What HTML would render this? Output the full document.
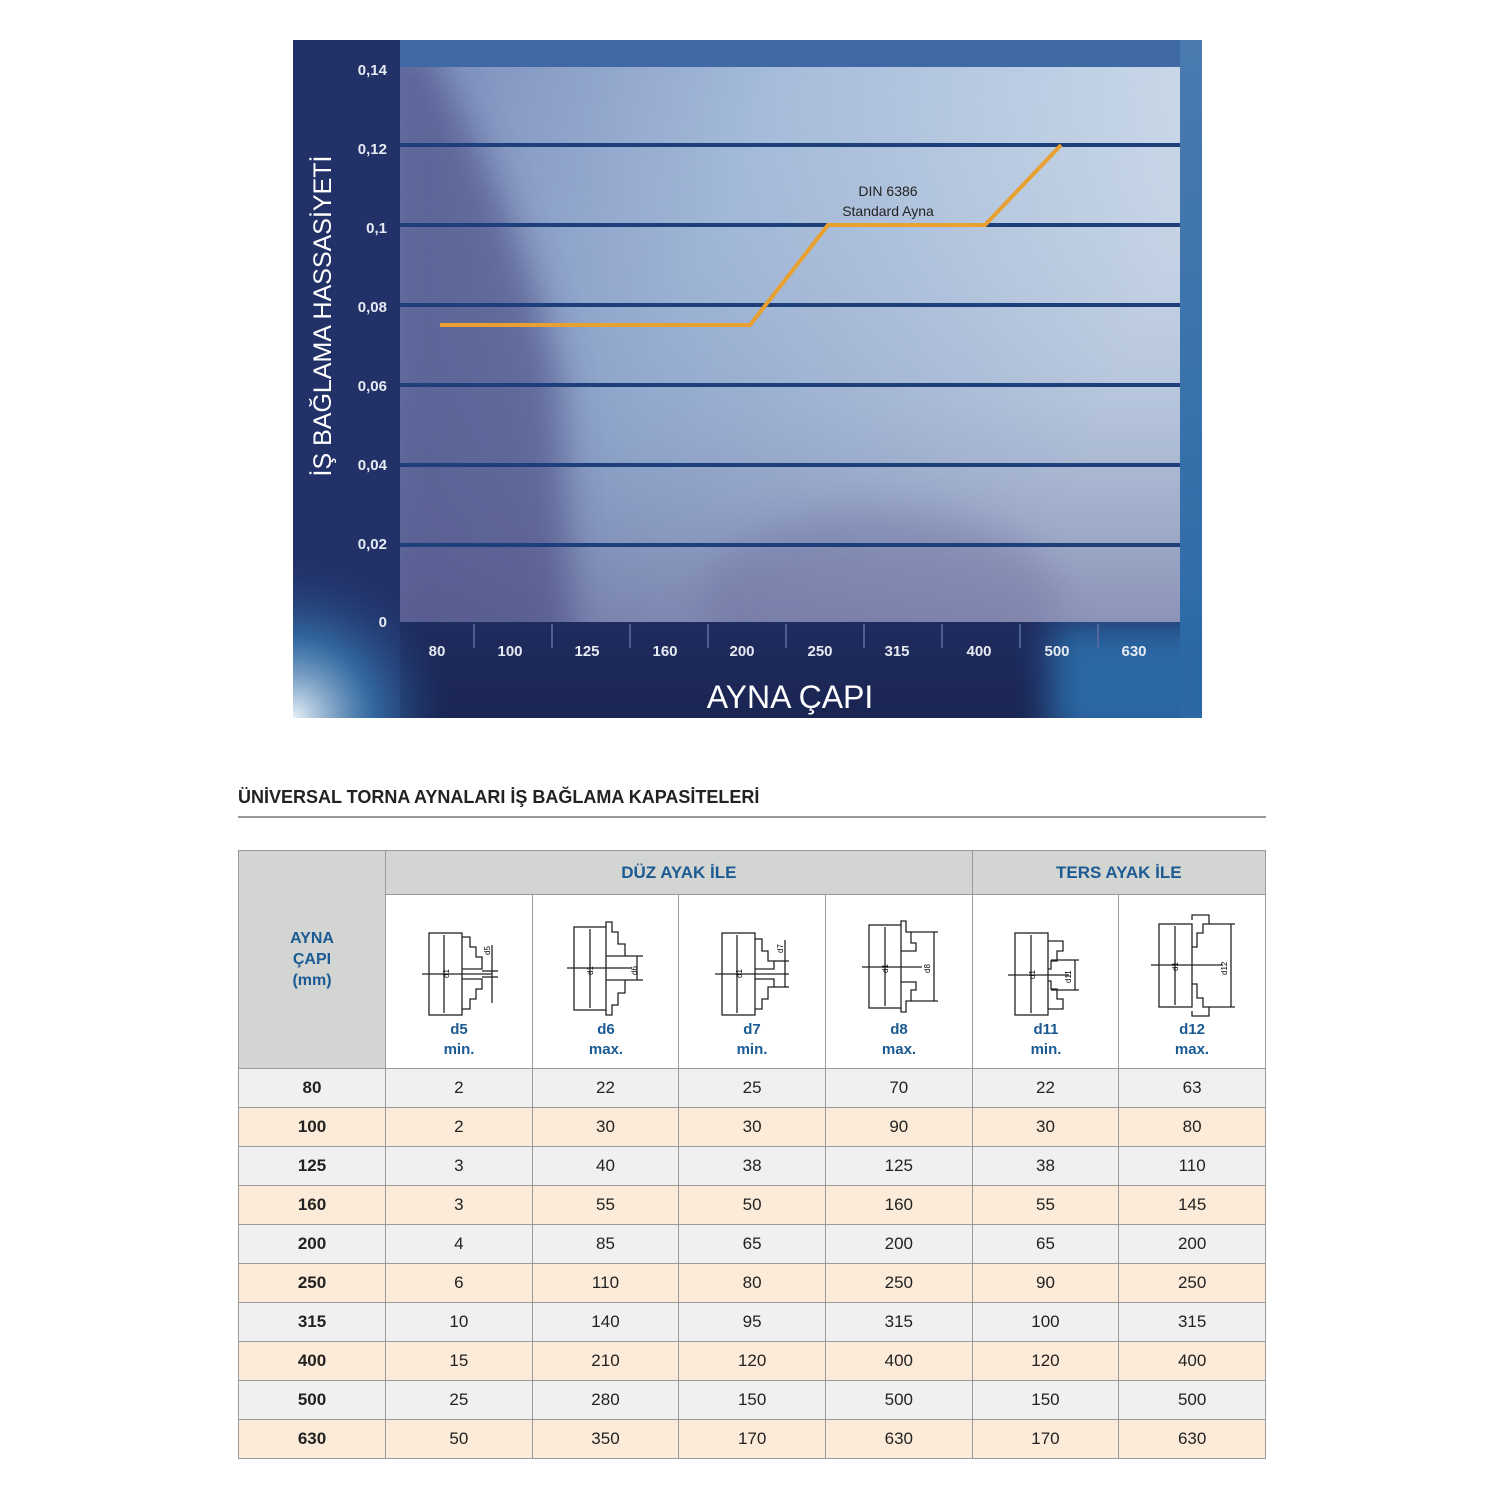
<!DOCTYPE html>
<html><head><meta charset="utf-8"><style>
body{margin:0;background:#fff;width:1500px;height:1500px;position:relative;font-family:"Liberation Sans",sans-serif;overflow:hidden}
.t{position:absolute}
table{position:absolute;left:238px;top:850px;border-collapse:collapse;table-layout:fixed;width:1028px}
td{border:1px solid #9a9a9a;text-align:center;padding:0;font-size:17px;color:#222}
td.h{background:#d3d5d3;color:#1b5a92;font-weight:bold}
tr.g td{background:#f0f0f0}
tr.p td{background:#fcebd8}
tr.g td:first-child,tr.p td:first-child{font-weight:bold}
td.ic{background:#fff;height:168px;vertical-align:top;overflow:hidden}
td.ic svg{display:block}
</style></head><body>
<svg class="t" style="left:0;top:0" width="1500" height="730" viewBox="0 0 1500 730">
<defs>
<linearGradient id="bg" x1="0" y1="0" x2="0" y2="1">
<stop offset="0" stop-color="#3f6aa5"/><stop offset="0.5" stop-color="#3e5f9c"/><stop offset="0.85" stop-color="#1f2c5e"/><stop offset="1" stop-color="#1a2552"/></linearGradient>
<linearGradient id="pl" x1="0" y1="0" x2="1" y2="0.3">
<stop offset="0" stop-color="#6a7fb3"/><stop offset="0.45" stop-color="#9cb5d6"/><stop offset="1" stop-color="#c8d8e8"/></linearGradient>
<linearGradient id="pv" x1="0" y1="0" x2="0" y2="1">
<stop offset="0" stop-color="#fff" stop-opacity="0.1"/><stop offset="0.6" stop-color="#6a78a8" stop-opacity="0.2"/><stop offset="1" stop-color="#5a5a8e" stop-opacity="0.55"/></linearGradient>
<radialGradient id="wl" cx="0" cy="1" r="1"><stop offset="0" stop-color="#e8f2f8"/><stop offset="0.5" stop-color="#3a80b8" stop-opacity="0.7"/><stop offset="1" stop-color="#1e3a78" stop-opacity="0"/></radialGradient>
<linearGradient id="rt" x1="0" y1="0" x2="0" y2="1"><stop offset="0" stop-color="#4a7ab0"/><stop offset="1" stop-color="#2a6aa8"/></linearGradient>
<filter id="bl" x="-20%" y="-20%" width="140%" height="140%"><feGaussianBlur stdDeviation="18"/></filter>
<clipPath id="pc"><rect x="400" y="67" width="780" height="555"/></clipPath>
<clipPath id="cc"><rect x="293" y="40" width="909" height="678"/></clipPath>
</defs>
<g clip-path="url(#cc)">
<rect x="293" y="40" width="909" height="678" fill="url(#bg)"/>
<rect x="293" y="40" width="107" height="678" fill="#223268"/>
<rect x="293" y="560" width="160" height="158" fill="url(#wl)"/>
<rect x="1180" y="40" width="22" height="678" fill="url(#rt)"/>
<rect x="1050" y="622" width="170" height="120" fill="#2a68a4" filter="url(#bl)"/>
</g>
<rect x="400" y="67" width="780" height="555" fill="url(#pl)"/>
<rect x="400" y="67" width="780" height="555" fill="url(#pv)"/>
<g clip-path="url(#pc)"><path d="M380 40 L420 40 Q520 200 560 380 L575 660 L380 660Z" fill="#4a4a80" opacity="0.6" filter="url(#bl)"/>
<ellipse cx="880" cy="600" rx="180" ry="90" fill="#6a6a9a" opacity="0.35" filter="url(#bl)"/></g>
<g stroke="#1f3f7a" stroke-width="4">
<line x1="400" y1="145" x2="1180" y2="145"/><line x1="400" y1="225" x2="1180" y2="225"/>
<line x1="400" y1="305" x2="1180" y2="305"/><line x1="400" y1="385" x2="1180" y2="385"/>
<line x1="400" y1="465" x2="1180" y2="465"/><line x1="400" y1="545" x2="1180" y2="545"/></g>
<g stroke="#5a6aa0" stroke-width="2" opacity="0.8">
<line x1="474" y1="624" x2="474" y2="648"/><line x1="552" y1="624" x2="552" y2="648"/><line x1="630" y1="624" x2="630" y2="648"/><line x1="708" y1="624" x2="708" y2="648"/><line x1="786" y1="624" x2="786" y2="648"/><line x1="864" y1="624" x2="864" y2="648"/><line x1="942" y1="624" x2="942" y2="648"/><line x1="1020" y1="624" x2="1020" y2="648"/><line x1="1098" y1="624" x2="1098" y2="648"/></g>
<polyline points="440,325 750,325 828,225 985,225 1061,145" fill="none" stroke="#e8a030" stroke-width="4"/>
<g fill="#e6ebf3" font-size="15" font-weight="bold" text-anchor="end">
<text x="387" y="75">0,14</text><text x="387" y="154">0,12</text><text x="387" y="233">0,1</text><text x="387" y="312">0,08</text><text x="387" y="391">0,06</text><text x="387" y="470">0,04</text><text x="387" y="549">0,02</text><text x="387" y="627">0</text></g>
<g fill="#e6ebf3" font-size="15" font-weight="bold" text-anchor="middle">
<text x="437" y="656">80</text><text x="510" y="656">100</text><text x="587" y="656">125</text><text x="665" y="656">160</text><text x="742" y="656">200</text><text x="820" y="656">250</text><text x="897" y="656">315</text><text x="979" y="656">400</text><text x="1057" y="656">500</text><text x="1134" y="656">630</text></g>
<text x="790" y="708" fill="#fff" font-size="32" text-anchor="middle">AYNA ÇAPI</text>
<text transform="translate(331,316) rotate(-90)" fill="#fff" font-size="25" text-anchor="middle">İŞ BAĞLAMA HASSASİYETİ</text>
<text x="888" y="196" fill="#222" font-size="14" text-anchor="middle">DIN 6386</text>
<text x="888" y="216" fill="#222" font-size="14" text-anchor="middle">Standard Ayna</text>
</svg>
<div class="t" style="left:238px;top:787px;font-size:18px;font-weight:bold;color:#222">ÜNİVERSAL TORNA AYNALARI İŞ BAĞLAMA KAPASİTELERİ</div>
<div class="t" style="left:238px;top:816px;width:1028px;height:2px;background:#999"></div>
<table>
<colgroup><col style="width:147px"><col><col><col><col><col><col></colgroup>
<tr style="height:44px"><td class="h" rowspan="2" style="font-size:16px;line-height:21px">AYNA<br>ÇAPI<br>(mm)</td><td class="h" colspan="4" style="font-size:17px">DÜZ AYAK İLE</td><td class="h" colspan="2" style="font-size:17px">TERS AYAK İLE</td></tr>
<tr style="height:174px">
<td class="ic"><svg width="146" height="168"><g fill="none" stroke="#222" stroke-width="1.3"><rect x="43" y="38" width="33" height="82"/><line x1="58" y1="40" x2="58" y2="118"/><polyline points="76,42 84,42 84,52 90,52 90,62 96,62 96,74 76,74"/><polyline points="76,114 84,114 84,104 90,104 90,94 96,94 96,84 76,84"/><line x1="36" y1="79" x2="106" y2="79"/><line x1="96" y1="76" x2="112" y2="76"/><line x1="96" y1="82" x2="112" y2="82"/><line x1="106" y1="50" x2="106" y2="108"/></g><text transform="translate(63,83) rotate(-90)" font-size="8">d1</text><text transform="translate(104,60) rotate(-90)" font-size="8">d5</text><text x="73" y="139" fill="#1b5a92" font-weight="bold" font-size="15" text-anchor="middle">d5</text><text x="73" y="159" fill="#1b5a92" font-weight="bold" font-size="15" text-anchor="middle">min.</text></svg></td>
<td class="ic"><svg width="146" height="168"><g fill="none" stroke="#222" stroke-width="1.3"><rect x="41" y="32" width="32" height="83"/><line x1="57" y1="34" x2="57" y2="113"/><polyline points="73,32 73,27 79,27 79,37 85,37 85,49 92,49 92,61 73,61"/><polyline points="73,115 73,120 79,120 79,110 85,110 85,98 92,98 92,85 73,85"/><line x1="34" y1="73" x2="98" y2="73"/><line x1="92" y1="61" x2="110" y2="61"/><line x1="92" y1="85" x2="110" y2="85"/><line x1="104" y1="61" x2="104" y2="85"/></g><text transform="translate(60,80) rotate(-90)" font-size="8">d1</text><text transform="translate(104,80) rotate(-90)" font-size="8">d6</text><text x="73" y="139" fill="#1b5a92" font-weight="bold" font-size="15" text-anchor="middle">d6</text><text x="73" y="159" fill="#1b5a92" font-weight="bold" font-size="15" text-anchor="middle">max.</text></svg></td>
<td class="ic"><svg width="146" height="168"><g fill="none" stroke="#222" stroke-width="1.3"><rect x="43" y="38" width="33" height="82"/><line x1="58" y1="40" x2="58" y2="118"/><polyline points="76,44 83,44 83,56 89,56 89,66 95,66 95,74 76,74"/><polyline points="76,114 83,114 83,104 89,104 89,92 95,92 95,84 76,84"/><line x1="36" y1="79" x2="110" y2="79"/><line x1="95" y1="66" x2="110" y2="66"/><line x1="95" y1="92" x2="110" y2="92"/><line x1="106" y1="45" x2="106" y2="92"/></g><text transform="translate(63,83) rotate(-90)" font-size="8">d1</text><text transform="translate(104,58) rotate(-90)" font-size="8">d7</text><text x="73" y="139" fill="#1b5a92" font-weight="bold" font-size="15" text-anchor="middle">d7</text><text x="73" y="159" fill="#1b5a92" font-weight="bold" font-size="15" text-anchor="middle">min.</text></svg></td>
<td class="ic"><svg width="146" height="168"><g fill="none" stroke="#222" stroke-width="1.3"><rect x="43" y="30" width="32" height="83"/><line x1="59" y1="32" x2="59" y2="111"/><polyline points="75,30 75,26 80,26 80,37 85,37 85,48 90,48 90,56 75,56"/><polyline points="75,113 75,117 80,117 80,106 85,106 85,95 90,95 90,87 75,87"/><line x1="36" y1="72" x2="96" y2="72"/><line x1="85" y1="37" x2="112" y2="37"/><line x1="85" y1="106" x2="112" y2="106"/><line x1="108" y1="37" x2="108" y2="106"/></g><text transform="translate(62,78) rotate(-90)" font-size="8">d1</text><text transform="translate(104,78) rotate(-90)" font-size="8">d8</text><text x="73" y="139" fill="#1b5a92" font-weight="bold" font-size="15" text-anchor="middle">d8</text><text x="73" y="159" fill="#1b5a92" font-weight="bold" font-size="15" text-anchor="middle">max.</text></svg></td>
<td class="ic"><svg width="146" height="168"><g fill="none" stroke="#222" stroke-width="1.3"><rect x="42" y="38" width="33" height="82"/><line x1="58" y1="40" x2="58" y2="118"/><polyline points="75,46 90,46 90,56 84,56 84,66 78,66 78,74 75,74"/><polyline points="75,114 90,114 90,104 84,104 84,94 78,94 78,86 75,86"/><line x1="35" y1="80" x2="96" y2="80"/><line x1="78" y1="65" x2="106" y2="65"/><line x1="78" y1="95" x2="106" y2="95"/><line x1="102" y1="65" x2="102" y2="95"/></g><text transform="translate(62,84) rotate(-90)" font-size="8">d1</text><text transform="translate(98,88) rotate(-90)" font-size="8">d11</text><text x="73" y="139" fill="#1b5a92" font-weight="bold" font-size="15" text-anchor="middle">d11</text><text x="73" y="159" fill="#1b5a92" font-weight="bold" font-size="15" text-anchor="middle">min.</text></svg></td>
<td class="ic"><svg width="146" height="168"><g fill="none" stroke="#222" stroke-width="1.3"><rect x="40" y="29" width="33" height="83"/><line x1="56" y1="31" x2="56" y2="110"/><polyline points="73,25 73,20 90,20 90,29 84,29 84,38 78,38 78,52 73,52"/><polyline points="73,116 73,121 90,121 90,112 84,112 84,103 78,103 78,89 73,89"/><line x1="32" y1="70" x2="104" y2="70"/><line x1="90" y1="29" x2="116" y2="29"/><line x1="90" y1="112" x2="116" y2="112"/><line x1="112" y1="29" x2="112" y2="112"/></g><text transform="translate(59,76) rotate(-90)" font-size="8">d1</text><text transform="translate(108,80) rotate(-90)" font-size="8">d12</text><text x="73" y="139" fill="#1b5a92" font-weight="bold" font-size="15" text-anchor="middle">d12</text><text x="73" y="159" fill="#1b5a92" font-weight="bold" font-size="15" text-anchor="middle">max.</text></svg></td>
</tr>
<tr class="g" style="height:39px"><td>80</td><td>2</td><td>22</td><td>25</td><td>70</td><td>22</td><td>63</td></tr>
<tr class="p" style="height:39px"><td>100</td><td>2</td><td>30</td><td>30</td><td>90</td><td>30</td><td>80</td></tr>
<tr class="g" style="height:39px"><td>125</td><td>3</td><td>40</td><td>38</td><td>125</td><td>38</td><td>110</td></tr>
<tr class="p" style="height:39px"><td>160</td><td>3</td><td>55</td><td>50</td><td>160</td><td>55</td><td>145</td></tr>
<tr class="g" style="height:39px"><td>200</td><td>4</td><td>85</td><td>65</td><td>200</td><td>65</td><td>200</td></tr>
<tr class="p" style="height:39px"><td>250</td><td>6</td><td>110</td><td>80</td><td>250</td><td>90</td><td>250</td></tr>
<tr class="g" style="height:39px"><td>315</td><td>10</td><td>140</td><td>95</td><td>315</td><td>100</td><td>315</td></tr>
<tr class="p" style="height:39px"><td>400</td><td>15</td><td>210</td><td>120</td><td>400</td><td>120</td><td>400</td></tr>
<tr class="g" style="height:39px"><td>500</td><td>25</td><td>280</td><td>150</td><td>500</td><td>150</td><td>500</td></tr>
<tr class="p" style="height:39px"><td>630</td><td>50</td><td>350</td><td>170</td><td>630</td><td>170</td><td>630</td></tr>
</table>
</body></html>
